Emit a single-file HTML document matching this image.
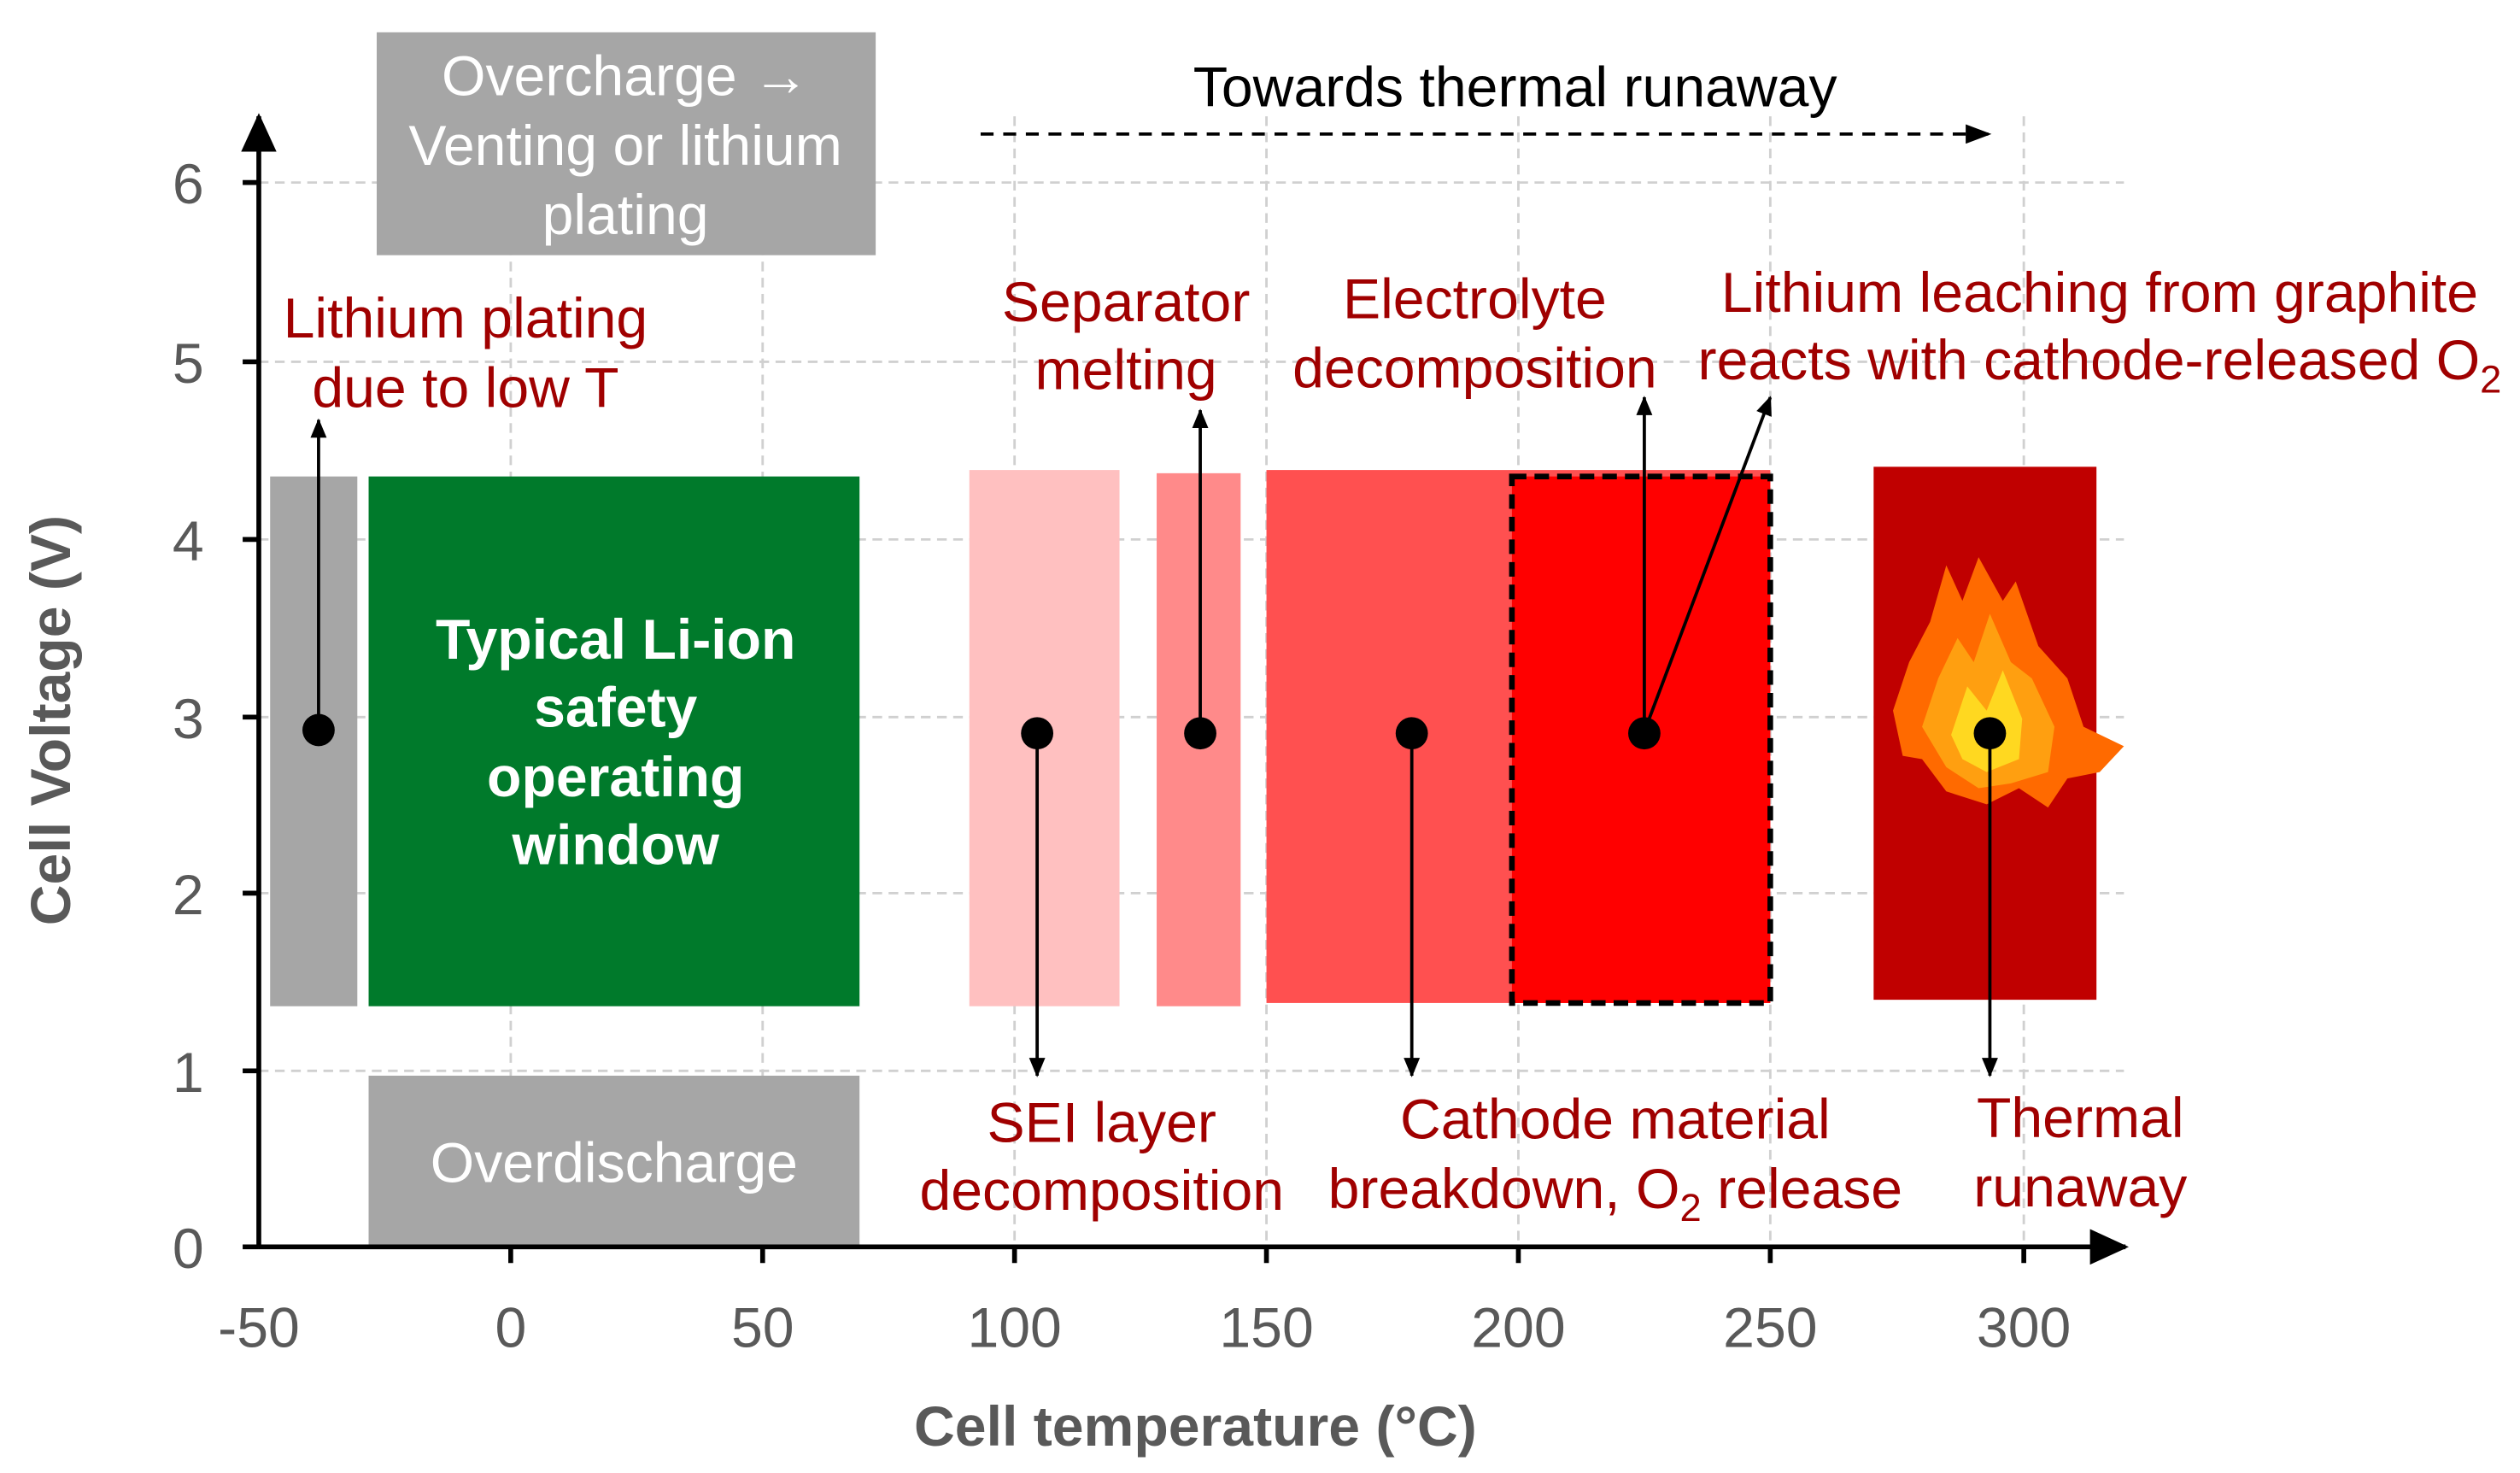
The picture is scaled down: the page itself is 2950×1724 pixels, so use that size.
<!DOCTYPE html>
<html><head><meta charset="utf-8"><style>
html,body{margin:0;padding:0;background:#fff}
svg{display:block}
text{font-family:"Liberation Sans",Arial,sans-serif}
</style></head><body>
<svg width="2950" height="1724" viewBox="0 0 1560 912" xmlns="http://www.w3.org/2000/svg">
<defs>
<marker id="ah" markerWidth="12" markerHeight="12" refX="11" refY="6" orient="auto" markerUnits="userSpaceOnUse"><path d="M0,1 L12,6 L0,11 z" fill="#000"/></marker>
<marker id="ahs" markerWidth="24" markerHeight="22" refX="22" refY="11" orient="auto" markerUnits="userSpaceOnUse"><path d="M0,0 L24,11 L0,22 z" fill="#000"/></marker>
<marker id="ahd" markerWidth="16" markerHeight="12" refX="15" refY="6" orient="auto" markerUnits="userSpaceOnUse"><path d="M0,0 L16,6 L0,12 z" fill="#000"/></marker>
</defs>
<rect width="1560" height="912" fill="#fff"/>
<g stroke="#d0d0d0" stroke-width="1.5" stroke-dasharray="6,4">
<line x1="160" y1="113" x2="1315" y2="113"/>
<line x1="160" y1="224" x2="1315" y2="224"/>
<line x1="160" y1="334" x2="1315" y2="334"/>
<line x1="160" y1="444" x2="1315" y2="444"/>
<line x1="160" y1="553" x2="1315" y2="553"/>
<line x1="160" y1="663" x2="1315" y2="663"/>
<line x1="316" y1="72" x2="316" y2="772"/>
<line x1="472" y1="72" x2="472" y2="772"/>
<line x1="628" y1="72" x2="628" y2="772"/>
<line x1="784" y1="72" x2="784" y2="772"/>
<line x1="940" y1="72" x2="940" y2="772"/>
<line x1="1096" y1="72" x2="1096" y2="772"/>
<line x1="1253" y1="72" x2="1253" y2="772"/>
</g>
<rect x="233" y="20" width="309" height="138" fill="#a6a6a6"/>
<rect x="167" y="295" width="54" height="328" fill="#a6a6a6"/>
<rect x="228" y="295" width="304" height="328" fill="#007a2b"/>
<rect x="228" y="666" width="304" height="106" fill="#a6a6a6"/>
<rect x="600" y="291" width="93" height="332" fill="#ffc0c0"/>
<rect x="716" y="293" width="52" height="330" fill="#ff8a8a"/>
<rect x="784" y="291" width="312" height="330" fill="#ff5050"/>
<rect x="936" y="295" width="160" height="326" fill="#ff0000" stroke="#000" stroke-width="3.5" stroke-dasharray="9,5"/>
<rect x="1160" y="289" width="138" height="330" fill="#c00000"/>
<path d="M1172,440 L1182,410 L1195,385 L1205,350 L1215,372 L1225,345 L1240,372 L1248,360 L1262,400 L1280,420 L1290,450 L1315,462 L1300,478 L1280,482 L1268,500 L1250,488 L1230,498 L1205,490 L1190,470 L1178,468 Z" fill="#ff6a00"/>
<path d="M1190,450 L1200,420 L1212,395 L1222,410 L1232,380 L1245,410 L1258,420 L1272,450 L1268,478 L1245,485 L1225,488 L1205,475 Z" fill="#ff9f10"/>
<path d="M1208,455 L1218,425 L1230,440 L1240,415 L1252,445 L1250,470 L1230,478 L1215,470 Z" fill="#ffd820"/>
<line x1="160" y1="772" x2="160" y2="72" stroke="#000" stroke-width="3" marker-end="url(#ahs)"/>
<line x1="160" y1="772" x2="1316" y2="772" stroke="#000" stroke-width="3" marker-end="url(#ahs)"/>
<g stroke="#000" stroke-width="3">
<line x1="150" y1="113" x2="160" y2="113"/><line x1="150" y1="224" x2="160" y2="224"/><line x1="150" y1="334" x2="160" y2="334"/><line x1="150" y1="444" x2="160" y2="444"/><line x1="150" y1="553" x2="160" y2="553"/><line x1="150" y1="663" x2="160" y2="663"/><line x1="150" y1="772" x2="160" y2="772"/>
<line x1="316" y1="772" x2="316" y2="782"/><line x1="472" y1="772" x2="472" y2="782"/><line x1="628" y1="772" x2="628" y2="782"/><line x1="784" y1="772" x2="784" y2="782"/><line x1="940" y1="772" x2="940" y2="782"/><line x1="1096" y1="772" x2="1096" y2="782"/><line x1="1253" y1="772" x2="1253" y2="782"/>
</g>
<g fill="#595959" font-size="35" text-anchor="end">
<text x="126" y="126">6</text><text x="126" y="237">5</text><text x="126" y="347">4</text><text x="126" y="457">3</text><text x="126" y="566">2</text><text x="126" y="676">1</text><text x="126" y="785">0</text>
</g>
<g fill="#595959" font-size="35" text-anchor="middle">
<text x="160" y="834">-50</text><text x="316" y="834">0</text><text x="472" y="834">50</text><text x="628" y="834">100</text><text x="784" y="834">150</text><text x="940" y="834">200</text><text x="1096" y="834">250</text><text x="1253" y="834">300</text>
</g>
<text x="740" y="895" fill="#595959" font-size="35" font-weight="bold" text-anchor="middle">Cell temperature (°C)</text>
<text transform="translate(43,446) rotate(-90)" fill="#595959" font-size="35" font-weight="bold" text-anchor="middle">Cell Voltage (V)</text>
<g fill="#fff" font-size="35" text-anchor="middle">
<text x="387" y="59">Overcharge →</text>
<text x="387" y="102">Venting or lithium</text>
<text x="387" y="145">plating</text>
<text x="380" y="732">Overdischarge</text>
</g>
<g fill="#fff" font-size="35" font-weight="bold" text-anchor="middle">
<text x="381" y="408">Typical Li-ion</text>
<text x="381" y="450">safety</text>
<text x="381" y="493">operating</text>
<text x="381" y="535">window</text>
</g>
<line x1="607" y1="83" x2="1232" y2="83" stroke="#000" stroke-width="2" stroke-dasharray="8,6" marker-end="url(#ahd)"/>
<text x="938" y="66" fill="#000" font-size="35" text-anchor="middle">Towards thermal runaway</text>
<g stroke="#000" stroke-width="2" fill="none">
<line x1="197" y1="453" x2="197" y2="260" marker-end="url(#ah)"/>
<line x1="642" y1="453" x2="642" y2="666" marker-end="url(#ah)"/>
<line x1="743" y1="453" x2="743" y2="254" marker-end="url(#ah)"/>
<line x1="874" y1="453" x2="874" y2="666" marker-end="url(#ah)"/>
<line x1="1018" y1="453" x2="1018" y2="246" marker-end="url(#ah)"/>
<line x1="1018" y1="453" x2="1096" y2="246" marker-end="url(#ah)"/>
<line x1="1232" y1="453" x2="1232" y2="666" marker-end="url(#ah)"/>
</g>
<g fill="#000">
<circle cx="197" cy="452" r="10"/><circle cx="642" cy="454" r="10"/><circle cx="743" cy="454" r="10"/><circle cx="874" cy="454" r="10"/><circle cx="1018" cy="454" r="10"/><circle cx="1232" cy="454" r="10"/>
</g>
<g fill="#a00000" font-size="35" text-anchor="middle">
<text x="288" y="209">Lithium plating</text>
<text x="288" y="252">due to low T</text>
<text x="697" y="199">Separator</text>
<text x="697" y="241">melting</text>
<text x="913" y="197">Electrolyte</text>
<text x="913" y="240">decomposition</text>
<text x="1300" y="193">Lithium leaching from graphite</text>
<text x="1300" y="235">reacts with cathode-released O<tspan font-size="24" dy="8">2</tspan></text>
<text x="682" y="707">SEI layer</text>
<text x="682" y="749">decomposition</text>
<text x="1000" y="705">Cathode material</text>
<text x="1000" y="748">breakdown, O<tspan font-size="24" dy="8">2</tspan><tspan dy="-8"> release</tspan></text>
<text x="1288" y="704">Thermal</text>
<text x="1288" y="747">runaway</text>
</g>
</svg>
</body></html>
